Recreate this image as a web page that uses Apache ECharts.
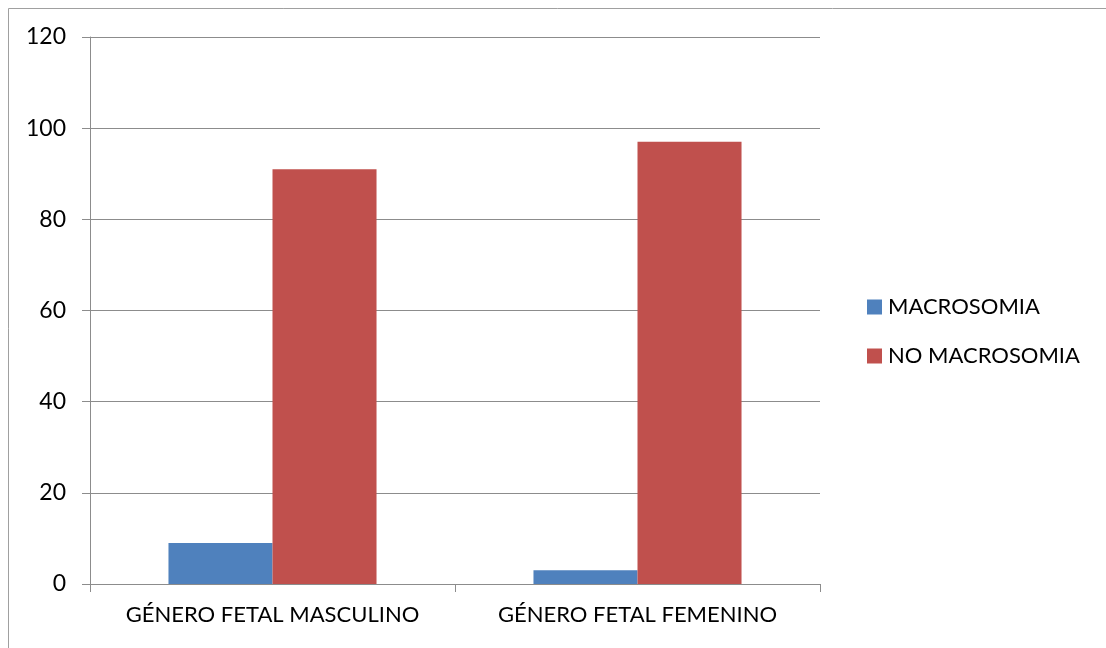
<!DOCTYPE html>
<html>
<head>
<meta charset="utf-8">
<script src="https://cdn.jsdelivr.net/npm/echarts@6/dist/echarts.min.js"></script>
<style>
  html, body { margin: 0; padding: 0; background: #fff; }
  #chart { width: 1106px; height: 648px; }
</style>
</head>
<body>
<div id="chart"></div>
<script>
// Categories and series values
const categories = ['GÉNERO FETAL MASCULINO', 'GÉNERO FETAL FEMENINO'];
const macrosomia = [9, 3];
const noMacrosomia = [91, 97];
const seriesNames = ['MACROSOMIA', 'NO MACROSOMIA'];

const FONT = 'Lato, "Open Sans", sans-serif';
const GRID_COLOR = '#8c8c8c';

const chart = echarts.init(document.getElementById('chart'));
chart.setOption({
  animation: false,
  backgroundColor: '#ffffff',
  graphic: [{
    type: 'rect',
    shape: { x: 8.5, y: 8.5, width: 1120, height: 680 },
    style: { fill: 'none', stroke: '#a0a0a0', lineWidth: 1 },
    silent: true
  }],
  grid: { left: 90, right: 286, top: 37, bottom: 64, containLabel: false },
  legend: {
    orient: 'vertical',
    left: 862,
    top: 291,
    itemWidth: 15,
    itemHeight: 15,
    itemGap: 27,
    icon: 'rect',
    textStyle: { fontFamily: FONT, fontSize: 22, color: '#000', padding: [0, 0, 0, 1] },
    data: seriesNames
  },
  xAxis: {
    type: 'category',
    data: categories,
    axisLine: { show: true, lineStyle: { color: GRID_COLOR, width: 1 } },
    axisTick: { show: true, length: 8, lineStyle: { color: GRID_COLOR } },
    axisLabel: { interval: 0, fontFamily: FONT, fontSize: 22, color: '#000', margin: 20 }
  },
  yAxis: {
    type: 'value',
    min: 0,
    max: 120,
    interval: 20,
    axisLine: { show: true, lineStyle: { color: GRID_COLOR, width: 1 } },
    axisTick: { show: true, length: 8, lineStyle: { color: GRID_COLOR } },
    axisLabel: { fontFamily: FONT, fontSize: 23, color: '#000', margin: 24 },
    splitLine: { show: true, lineStyle: { color: GRID_COLOR, width: 1 } }
  },
  series: [
    {
      name: seriesNames[0],
      type: 'bar',
      data: macrosomia,
      itemStyle: { color: '#4F81BD' },
      barGap: '0%',
      barCategoryGap: '43%'
    },
    {
      name: seriesNames[1],
      type: 'bar',
      data: noMacrosomia,
      itemStyle: { color: '#C0504D' },
      barGap: '0%',
      barCategoryGap: '43%'
    }
  ]
});
</script>
</body>
</html>
